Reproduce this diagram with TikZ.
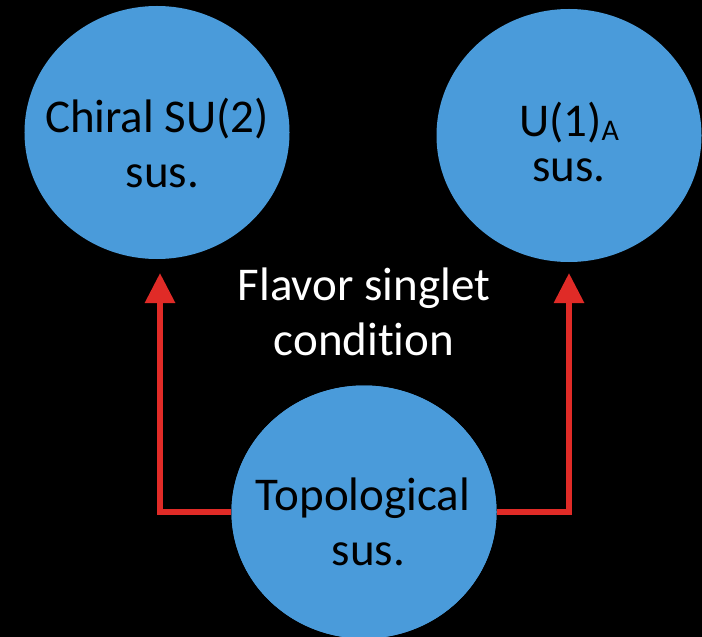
\documentclass[tikz,border=0pt]{standalone}
\usepackage{fontspec}
\setmainfont{Carlito}[Ligatures=NoCommon]
\usetikzlibrary{shapes.geometric,arrows.meta}
\definecolor{bubbleblue}{HTML}{4A9BDA}
\definecolor{linkred}{HTML}{E02B27}
\begin{document}
\begin{tikzpicture}[x=1bp,y=-1bp,
  bubble/.style={ellipse, fill=bubbleblue, minimum width=265bp, minimum height=253bp, inner sep=0pt},
  caption/.style={align=center, font=\fontsize{47bp}{55bp}\selectfont, text=black, anchor=base, inner sep=0pt},
  link/.style={draw=linkred, line width=6bp, -{Triangle[length=30bp,width=29bp]}}]
  % page and backdrop
  \fill[black] (0,0) rectangle (702,637);
  \useasboundingbox (0,0) rectangle (702,637);
  \clip (0,0) rectangle (702,637);

  % the three susceptibilities
  \node[bubble] (chiral) at (157,132.5) {};
  \node[bubble] (axial)  at (569,135.5) {};
  \node[bubble] (topo)   at (364,512) {};

  % arrow tips just below the upper bubbles
  \coordinate (tipL) at (160,273);
  \coordinate (tipR) at (569,273);

  % connectors from the topological bubble
  \draw[link] (topo.west) -| (tipL);
  \draw[link] (topo.east) -| (tipR);
  \node[bubble] at (topo) {};

  % labels (anchored on the baseline of their last line)
  \node[caption] (chiraltext) at (157,188) {Chiral SU(2)\\\hspace*{11bp}sus.};
  \node[caption] (axialtext)  at (569,182) {U(1)\raisebox{-4bp}{\fontsize{30bp}{30bp}\selectfont A}\\[-10bp]sus.};
  \node[caption] (topotext)   at (363,565) {Topological\\\hspace*{11bp}sus.};
  \node[caption, text=white] (flavor) at (364,355) {Flavor singlet\\condition};
\end{tikzpicture}
\end{document}
